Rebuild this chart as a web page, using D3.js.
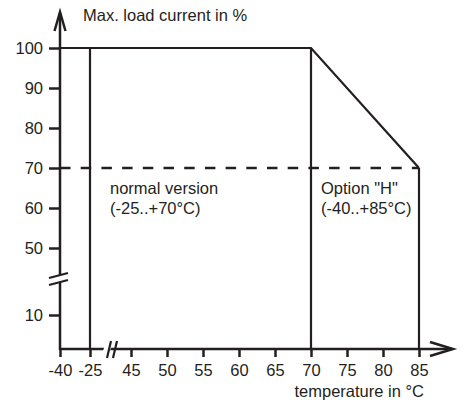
<!DOCTYPE html>
<html>
  <head>
    <meta charset="utf-8">
    <script src="https://cdnjs.cloudflare.com/ajax/libs/d3/7.8.5/d3.min.js"></script>
    <style type="text/css">
    body { margin: 0; background: white; }
    text { font-family: "Liberation Sans", Arial, sans-serif; fill: #231f20; }
    .axis text { font-size: 16.5px; }
    .axis line { stroke: #231f20; stroke-width: 2.5px; }
    .axis path { display: none; }
    .label { font-size: 16.5px; }
    </style>
  </head>
  <body>
    <script type="text/javascript">
      // data
      var yTicks = [10, 50, 60, 70, 80, 90, 100];
      var xTicks = [-40, -25, 45, 50, 55, 60, 65, 70, 75, 80, 85];
      var curveTemp = [-40, 70, 85];
      var curveLoad = [100, 100, 70];
      var limitTemp = [-25, 70, 85];   // vertical limits
      var limitLoad = [100, 100, 70];
      var dashedLoad = 70;

      var w = 464, h = 405;
      var ink = "#231f20";

      var svg = d3.select("body").append("svg")
                  .attr("width", w)
                  .attr("height", h);

      // broken scales
      var x = d3.scaleLinear()
                .domain([-40, -25, 45, 85])
                .range([60, 90, 131, 419]);
      var y = d3.scaleLinear()
                .domain([0, 10, 50, 100])
                .range([349, 315, 248, 48]);

      // axes (plain hyphen for negatives, like the original)
      svg.append("g")
         .attr("class", "axis")
         .attr("transform", "translate(60,0)")
         .call(d3.axisLeft(y).tickValues(yTicks).tickSize(11).tickPadding(6).tickFormat(String));

      svg.append("g")
         .attr("class", "axis")
         .attr("transform", "translate(0,349)")
         .call(d3.axisBottom(x).tickValues(xTicks).tickSize(8).tickPadding(7).tickFormat(String));

      // dashed 70% line
      svg.append("line")
         .attr("x1", x(-40)).attr("x2", x(85))
         .attr("y1", y(dashedLoad)).attr("y2", y(dashedLoad))
         .attr("stroke", ink).attr("stroke-width", 2.5)
         .attr("stroke-dasharray", "10.5,10.2");

      // vertical limits
      svg.selectAll(".limit")
         .data(limitTemp)
         .enter().append("line")
           .attr("class", "limit")
           .attr("x1", function(d) { return x(d); })
           .attr("x2", function(d) { return x(d); })
           .attr("y1", function(d, i) { return y(limitLoad[i]); })
           .attr("y2", y(0))
           .attr("stroke", ink).attr("stroke-width", 2.2);

      // derating curve
      var line = d3.line()
                   .x(function(d) { return x(d[0]); })
                   .y(function(d) { return y(d[1]); });
      svg.append("path")
         .datum(d3.zip(curveTemp, curveLoad))
         .attr("d", line)
         .attr("fill", "none")
         .attr("stroke", ink).attr("stroke-width", 2.2)
         .attr("stroke-linejoin", "miter");

      // axis lines with arrows
      svg.append("line")
         .attr("x1", 60).attr("x2", 60).attr("y1", y(0) + 1).attr("y2", 13)
         .attr("stroke", ink).attr("stroke-width", 2.5);
      svg.append("path")
         .attr("d", "M54.5,31 L60,12 L65.5,31")
         .attr("fill", "none").attr("stroke", ink).attr("stroke-width", 2.5);
      svg.append("line")
         .attr("x1", 59).attr("x2", 452).attr("y1", y(0)).attr("y2", y(0))
         .attr("stroke", ink).attr("stroke-width", 2.5);
      svg.append("path")
         .attr("d", "M430,342 L453,349 L430,356")
         .attr("fill", "none").attr("stroke", ink).attr("stroke-width", 2.5);

      // axis breaks
      svg.append("path")
         .attr("d", "M50,278 L68,273 L68,280 L50,285 Z")
         .attr("fill", "white");
      svg.append("path")
         .attr("d", "M49,278 L68,273 M49,285 L68,280")
         .attr("stroke", ink).attr("stroke-width", 2.2);
      svg.append("path")
         .attr("d", "M106,342 L113,342 L108,357 L101,357 Z")
         .attr("fill", "white");
      svg.append("path")
         .attr("d", "M107,358 L111,341 M113,358 L117,341")
         .attr("stroke", ink).attr("stroke-width", 2.2);

      // labels
      svg.append("text").attr("class", "label")
         .attr("x", 83).attr("y", 21).text("Max. load current in %");
      svg.append("text").attr("class", "label")
         .attr("x", 424).attr("y", 397).attr("text-anchor", "end")
         .text("temperature in °C");
      svg.append("text").attr("class", "label")
         .attr("x", 110).attr("y", 194).text("normal version");
      svg.append("text").attr("class", "label")
         .attr("x", 110).attr("y", 214).text("(-25..+70°C)");
      svg.append("text").attr("class", "label")
         .attr("x", 321).attr("y", 194).text("Option \"H\"");
      svg.append("text").attr("class", "label")
         .attr("x", 321).attr("y", 214).text("(-40..+85°C)");
    </script>
  </body>
</html>
